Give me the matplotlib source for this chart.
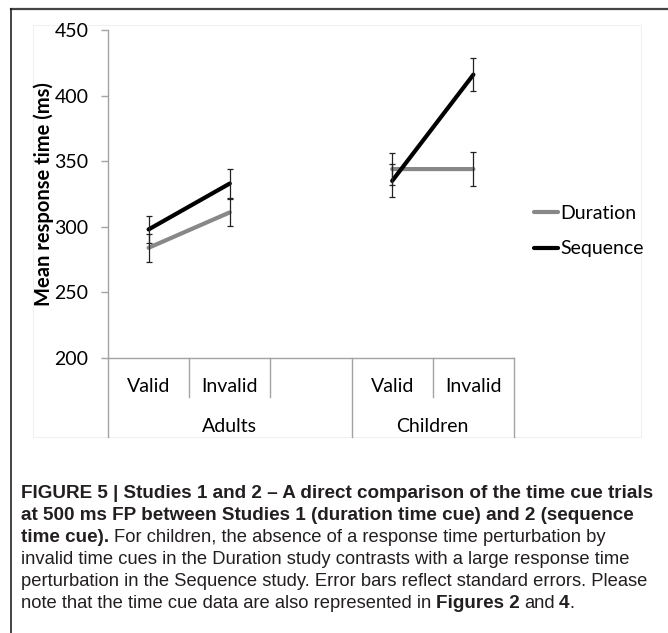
import numpy as np
import matplotlib.pyplot as plt
from matplotlib.lines import Line2D
from matplotlib.patches import Rectangle

categories = ["Valid", "Invalid", "", "Valid", "Invalid"]
groups = ["Adults", "Children"]
group_sizes = [3, 2]

duration_mean = [284, 311, np.nan, 344, 344]
duration_se = [10.5, 10.5, np.nan, 12.5, 13]
sequence_mean = [298, 333, np.nan, 335, 416]
sequence_se = [10.5, 11, np.nan, 12.5, 12.5]

caption = [
    [("FIGURE 5 | Studies 1 and 2 \u2013 A direct comparison of the time cue trials", "bold")],
    [("at 500 ms FP between Studies 1 (duration time cue) and 2 (sequence", "bold")],
    [("time cue).", "bold"), (" For children, the absence of a response time perturbation by", "normal")],
    [("invalid time cues in the Duration study contrasts with a large response time", "normal")],
    [("perturbation in the Sequence study. Error bars reflect standard errors. Please", "normal")],
    [("note that the time cue data are also represented in", "normal"), (" Figures 2", "bold"),
     (" and", "normal"), (" 4", "bold"), (".", "normal")],
]

W, H = 668, 633
fig = plt.figure(figsize=(W / 100, H / 100), dpi=100)
chart_font = "Lato"
fs = 14
axis_col = "#a3a3a3"

# outer frame and faint chart area box
fig.add_artist(Line2D([11 / W, 1], [1 - 8.5 / H] * 2, color="#444444", lw=1.6, zorder=-2))
fig.add_artist(Line2D([11 / W] * 2, [0, 1 - 8.5 / H], color="#111111", lw=1.1, zorder=-2))
fig.add_artist(Rectangle((33 / W, 1 - 437 / H), (641 - 33) / W, (437 - 25) / H,
                         fill=False, edgecolor="#f0f0f0", lw=0.8, zorder=-2))

ax = fig.add_axes([108 / W, 1 - 358 / H, (514 - 108) / W, (358 - 30) / H])
ax.patch.set_alpha(0)
x = np.arange(len(categories))

l1, = ax.plot(x, duration_mean, color="#888888", lw=3.0, solid_capstyle="round", zorder=2)
l2, = ax.plot(x, sequence_mean, color="black", lw=3.0, solid_capstyle="round", zorder=3)
ax.errorbar(x, duration_mean, yerr=duration_se, fmt="none", ecolor="#222222",
            elinewidth=0.9, capsize=2.3, capthick=0.9, zorder=4)
ax.errorbar(x, sequence_mean, yerr=sequence_se, fmt="none", ecolor="#222222",
            elinewidth=0.9, capsize=2.3, capthick=0.9, zorder=4)

ax.set_xlim(-0.5, len(categories) - 0.5)
ax.set_ylim(200, 450)
ax.set_yticks(np.arange(200, 451, 50))
ax.set_xticks([])
for s in ["top", "right"]:
    ax.spines[s].set_visible(False)
for s in ["left", "bottom"]:
    ax.spines[s].set_color(axis_col)
    ax.spines[s].set_linewidth(1.0)
ax.tick_params(axis="y", direction="out", length=5, width=1.0, color=axis_col,
               pad=9, labelsize=fs)
for lab in ax.get_yticklabels():
    lab.set_fontfamily(chart_font)

ax.text(-0.159, 0.5, "Mean response time (ms)", transform=ax.transAxes, rotation=90,
        ha="center", va="center", fontsize=14.5, fontweight="bold", family=chart_font)

# category axis: labels and separators
tr = ax.get_xaxis_transform()
short_y = -(397 - 358) / 328
long_y = -(437 - 358) / 328
for i, c in enumerate(categories):
    ax.text(i, -(386 - 358) / 328, c, transform=tr, ha="center", va="center",
            fontsize=fs, family=chart_font)
start = 0
for g, n in zip(groups, group_sizes):
    ax.text(start + (n - 1) / 2, -(426 - 358) / 328, g, transform=tr, ha="center",
            va="center", fontsize=fs, family=chart_font)
    ax.plot([start - 0.5] * 2, [0, long_y], transform=tr, color=axis_col, lw=1.0, clip_on=False)
    for k in range(1, n):
        ax.plot([start + k - 0.5] * 2, [0, short_y], transform=tr, color=axis_col,
                lw=1.0, clip_on=False)
    start += n
ax.plot([start - 0.5] * 2, [0, long_y], transform=tr, color=axis_col, lw=1.0, clip_on=False)

fig.legend([l1, l2], ["Duration", "Sequence"], loc="upper left",
           bbox_to_anchor=(534 / W, 1 - 205 / H), frameon=False, borderpad=0,
           borderaxespad=0, handlelength=1.25, handletextpad=0.1, labelspacing=0.95,
           prop={"family": chart_font, "size": fs})

# caption with mixed bold / regular runs
renderer = fig.canvas.get_renderer()
cap_font = "Liberation Sans"
cap_size = {"bold": 13.6, "normal": 13.2}
baselines = [498, 520, 542, 564, 586, 608]
gap = 4.4
for line, yb in zip(caption, baselines):
    xp = 21
    for txt, wt in line:
        if txt.startswith(" "):
            xp += gap
            txt = txt[1:]
        t = fig.text(xp / W, 1 - yb / H, txt, fontsize=cap_size[wt], fontweight=wt,
                     family=cap_font, color="#231f20", ha="left", va="baseline")
        bb = t.get_window_extent(renderer)
        xp = bb.x1

fig.savefig("out.png", dpi=100)
